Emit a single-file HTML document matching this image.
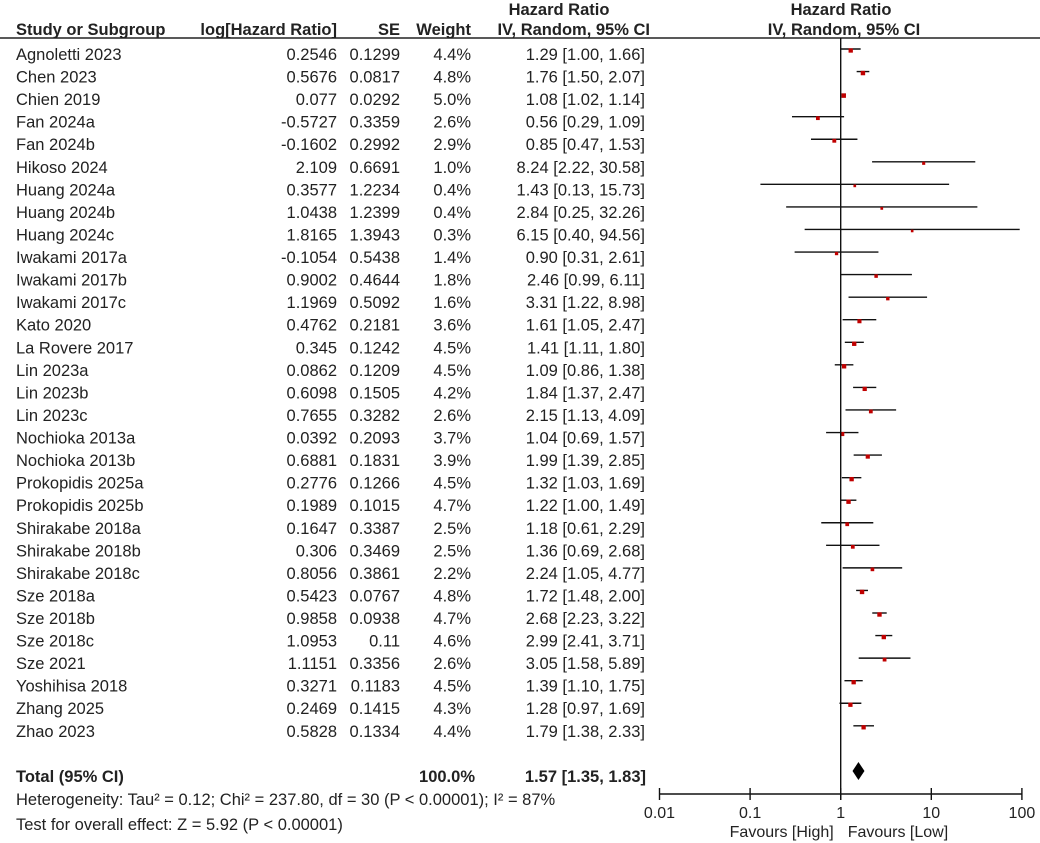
<!DOCTYPE html>
<html><head><meta charset="utf-8"><style>
body{margin:0;background:#fff;}
svg{display:block;font-family:"Liberation Sans",Arial,sans-serif;}
</style></head><body>
<svg id="c" width="1040" height="843" viewBox="0 0 1040 843">
<g font-weight="bold" font-size="16.5" fill="#222">
<text x="559" y="15" text-anchor="middle">Hazard Ratio</text>
<text x="841" y="15" text-anchor="middle">Hazard Ratio</text>
<text x="16" y="35">Study or Subgroup</text>
<text x="337" y="35" text-anchor="end">log[Hazard Ratio]</text>
<text x="400" y="35" text-anchor="end">SE</text>
<text x="471" y="35" text-anchor="end">Weight</text>
<text x="650" y="35" text-anchor="end">IV, Random, 95% CI</text>
<text x="844" y="35" text-anchor="middle">IV, Random, 95% CI</text>
</g>
<line x1="0" y1="38" x2="1040" y2="38" stroke="#222" stroke-width="1.4"/>
<g id="rows"></g>
<g id="plot"></g>
</svg>
<script>
const studies=["Agnoletti 2023","Chen 2023","Chien 2019","Fan 2024a","Fan 2024b","Hikoso 2024","Huang 2024a","Huang 2024b","Huang 2024c","Iwakami 2017a","Iwakami 2017b","Iwakami 2017c","Kato 2020","La Rovere 2017","Lin 2023a","Lin 2023b","Lin 2023c","Nochioka 2013a","Nochioka 2013b","Prokopidis 2025a","Prokopidis 2025b","Shirakabe 2018a","Shirakabe 2018b","Shirakabe 2018c","Sze 2018a","Sze 2018b","Sze 2018c","Sze 2021","Yoshihisa 2018","Zhang 2025","Zhao 2023"];
const logHR=["0.2546","0.5676","0.077","-0.5727","-0.1602","2.109","0.3577","1.0438","1.8165","-0.1054","0.9002","1.1969","0.4762","0.345","0.0862","0.6098","0.7655","0.0392","0.6881","0.2776","0.1989","0.1647","0.306","0.8056","0.5423","0.9858","1.0953","1.1151","0.3271","0.2469","0.5828"];
const se=["0.1299","0.0817","0.0292","0.3359","0.2992","0.6691","1.2234","1.2399","1.3943","0.5438","0.4644","0.5092","0.2181","0.1242","0.1209","0.1505","0.3282","0.2093","0.1831","0.1266","0.1015","0.3387","0.3469","0.3861","0.0767","0.0938","0.11","0.3356","0.1183","0.1415","0.1334"];
const weight=[4.4,4.8,5.0,2.6,2.9,1.0,0.4,0.4,0.3,1.4,1.8,1.6,3.6,4.5,4.5,4.2,2.6,3.7,3.9,4.5,4.7,2.5,2.5,2.2,4.8,4.7,4.6,2.6,4.5,4.3,4.4];
const hr=[1.29,1.76,1.08,0.56,0.85,8.24,1.43,2.84,6.15,0.90,2.46,3.31,1.61,1.41,1.09,1.84,2.15,1.04,1.99,1.32,1.22,1.18,1.36,2.24,1.72,2.68,2.99,3.05,1.39,1.28,1.79];
const lo=[1.00,1.50,1.02,0.29,0.47,2.22,0.13,0.25,0.40,0.31,0.99,1.22,1.05,1.11,0.86,1.37,1.13,0.69,1.39,1.03,1.00,0.61,0.69,1.05,1.48,2.23,2.41,1.58,1.10,0.97,1.38];
const hi=[1.66,2.07,1.14,1.09,1.53,30.58,15.73,32.26,94.56,2.61,6.11,8.98,2.47,1.80,1.38,2.47,4.09,1.57,2.85,1.69,1.49,2.29,2.68,4.77,2.00,3.22,3.71,5.89,1.75,1.69,2.33];
const totalHR=[1.57,1.35,1.83];
const ticks=[0.01,0.1,1,10,100];
const tickLabels=["0.01","0.1","1","10","100"];

const NS="http://www.w3.org/2000/svg";
const X=v=>840.7+90.6*Math.log10(v);
const Y=i=>49+i*22.56;
const fmt=v=>v.toFixed(2);
function el(t,a,p,txt){const e=document.createElementNS(NS,t);for(const k in a)e.setAttribute(k,a[k]);if(txt!==undefined)e.textContent=txt;p.appendChild(e);return e;}
const rows=document.getElementById('rows'),plot=document.getElementById('plot');
const clip=v=>Math.max(X(0.01),Math.min(X(100),X(v)));
studies.forEach((s,i)=>{
  const y=Y(i)+11;
  const g=el('g',{'font-size':'16.5',fill:'#222'},rows);
  
  
  el('text',{x:16,y:y},g,s);
  el('text',{x:337,y:y,'text-anchor':'end'},g,logHR[i]);
  el('text',{x:400,y:y,'text-anchor':'end'},g,se[i]);
  el('text',{x:471,y:y,'text-anchor':'end'},g,weight[i].toFixed(1)+'%');
  el('text',{x:645,y:y,'text-anchor':'end'},g,fmt(hr[i])+' ['+fmt(lo[i])+', '+fmt(hi[i])+']');
  const ly=Y(i);
  const l=el('line',{x1:clip(lo[i]),x2:clip(hi[i]),y1:ly,y2:ly,stroke:'#111','stroke-width':1.4},plot);
  
  
  const sz=2+Math.sqrt(weight[i])*1.1;
  const r=el('rect',{x:X(hr[i])-sz/2,y:ly-sz/2+1.5,width:sz,height:sz,fill:'#c00000'},plot);
  
  
});
const v=el('line',{x1:X(1),x2:X(1),y1:38,y2:800,stroke:'#111','stroke-width':1.4},plot);


const ty=771;
const tg=el('g',{'font-size':'16.5','font-weight':'bold',fill:'#222'},rows);


el('text',{x:16,y:782},tg,'Total (95% CI)');
el('text',{x:475,y:782,'text-anchor':'end'},tg,'100.0%');
el('text',{x:646,y:782,'text-anchor':'end'},tg,fmt(totalHR[0])+' ['+fmt(totalHR[1])+', '+fmt(totalHR[2])+']');
const d=el('polygon',{points:`${X(totalHR[1])},${ty} ${X(totalHR[0])},${ty-9} ${X(totalHR[2])},${ty} ${X(totalHR[0])},${ty+9}`,fill:'#000'},plot);


const h1=el('text',{x:16,y:805,'font-size':'16.5',fill:'#222'},rows,'Heterogeneity: Tau\u00b2 = 0.12; Chi\u00b2 = 237.80, df = 30 (P < 0.00001); I\u00b2 = 87%');


const h2=el('text',{x:16,y:830,'font-size':'16.5',fill:'#222'},rows,'Test for overall effect: Z = 5.92 (P < 0.00001)');


const ax=el('line',{x1:X(0.01),x2:X(100),y1:794,y2:794,stroke:'#111','stroke-width':1.4},plot);


ticks.forEach((t,i)=>{
  const tk=el('line',{x1:X(t),x2:X(t),y1:788,y2:800,stroke:'#111','stroke-width':1.4},plot);
  
  
  const tl=el('text',{x:X(t),y:818,'text-anchor':'middle','font-size':'16',fill:'#222'},plot,tickLabels[i]);
  
  
});
const f1=el('text',{x:X(1)-7,y:837,'text-anchor':'end','font-size':'16',fill:'#222'},plot,'Favours [High]');


const f2=el('text',{x:X(1)+7,y:837,'font-size':'16',fill:'#222'},plot,'Favours [Low]');


</script>
</body></html>
